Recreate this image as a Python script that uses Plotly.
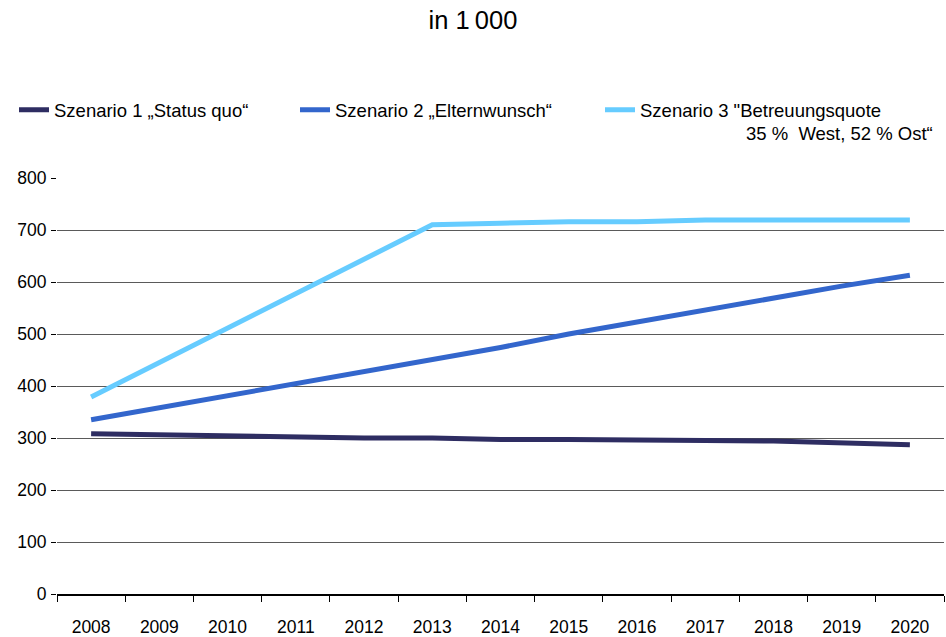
import plotly.graph_objects as go

years = [str(y) for y in range(2008, 2021)]

szenario_1 = [308, 306, 303, 303, 300, 300, 297, 297, 297, 295, 294, 290, 287]
szenario_2 = [335, 358, 382, 406, 429, 452, 474, 500, 523, 546, 571, 592, 613]
szenario_3 = [379, 445, 512, 578, 645, 710, 713, 716, 716, 719, 719, 719, 719]

names = ["Szenario 1 „Status quo“", "Szenario 2 „Elternwunsch“",
         "Szenario 3 \"Betreuungsquote"]
colors = ["#2e2d62", "#3366cc", "#66ccff"]
legends = ["legend", "legend2", "legend3"]

font = "Liberation Sans, Arial, sans-serif"

# plot area in pixels: x 57..944, y 178..594
def px_x(p):
    return (p - 57) / 887

fig = go.Figure()
for name, vals, col, lg in zip(names, [szenario_1, szenario_2, szenario_3], colors, legends):
    fig.add_trace(go.Scatter(
        x=years, y=vals, name=name, mode="lines", legend=lg,
        line=dict(color=col, width=5)
    ))

leg_style = dict(orientation="h", xanchor="left", y=1.163, yanchor="middle",
                 font=dict(size=18.5), bgcolor="rgba(0,0,0,0)")

fig.update_layout(
    width=946, height=637,
    margin=dict(l=57, r=2, t=178, b=43),
    paper_bgcolor="white", plot_bgcolor="white",
    font=dict(family=font, size=17.5, color="#000000"),
    title=dict(text="in 1\u2009000", x=0.5, xanchor="center",
               y=0.968, yanchor="middle", font=dict(size=25.5)),
    showlegend=True,
    legend=dict(x=px_x(14), **leg_style),
    legend2=dict(x=px_x(295), **leg_style),
    legend3=dict(x=px_x(600), **leg_style),
    annotations=[dict(text="35 %  West, 52 % Ost“", xref="paper", yref="paper",
                      x=px_x(935), xanchor="right", y=(594 - 134) / 416, yanchor="middle",
                      showarrow=False, font=dict(size=18.5))],
)

fig.update_xaxes(
    type="category", tickson="boundaries", ticks="outside", ticklen=6,
    tickcolor="#000000", showline=True, linecolor="#000000", linewidth=2,
    showgrid=False, ticklabelstandoff=16, tickfont=dict(size=17.5),
    range=[-0.5, 12.5], automargin=False
)
fig.update_yaxes(
    range=[0, 800], dtick=100, ticks="outside", ticklen=5, tickcolor="#000000",
    showgrid=True, gridcolor="#5a5a5a", gridwidth=1, showline=False,
    zeroline=False, tickfont=dict(size=17.5), ticklabelstandoff=1,
    automargin=False
)

fig.write_html("out.html", config={"displayModeBar": False},
               post_script="document.body.style.margin='0px';")
